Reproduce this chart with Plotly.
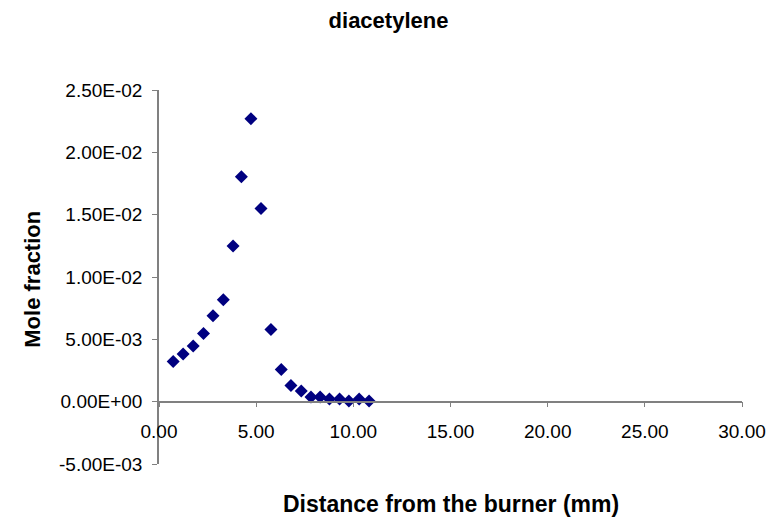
import plotly.graph_objects as go

# Diacetylene mole-fraction profile above the burner
distance_mm = [0.73, 1.24, 1.76, 2.29, 2.78, 3.31, 3.81, 4.24, 4.73, 5.25, 5.76,
               6.29, 6.79, 7.32, 7.82, 8.29, 8.77, 9.29, 9.77, 10.30, 10.81]
mole_fraction = [3.22e-3, 3.83e-3, 4.47e-3, 5.46e-3, 6.90e-3, 8.17e-3, 1.248e-2,
                 1.805e-2, 2.27e-2, 1.55e-2, 5.78e-3, 2.58e-3, 1.30e-3, 8.5e-4,
                 3.7e-4, 3.7e-4, 2.1e-4, 2.1e-4, 5e-5, 2.1e-4, 5e-5]

y_tick_vals = [-5e-3, 0, 5e-3, 1e-2, 1.5e-2, 2e-2, 2.5e-2]
y_tick_text = ["-5.00E-03", "0.00E+00", "5.00E-03", "1.00E-02",
               "1.50E-02", "2.00E-02", "2.50E-02"]
x_tick_vals = [0, 5, 10, 15, 20, 25, 30]

FONT = "Liberation Sans, Arial, sans-serif"
AXIS_GREY = "#808080"

fig = go.Figure()
fig.add_trace(go.Scatter(
    x=distance_mm, y=mole_fraction, mode="markers",
    marker=dict(symbol="diamond", size=10, color="#000080",
                line=dict(width=0)),
    showlegend=False,
))

y_min, y_max = -5e-3, 2.5e-2
fig.update_layout(
    width=777, height=522,
    margin=dict(l=158.5, r=34.5, t=90, b=58, pad=0),
    paper_bgcolor="white", plot_bgcolor="white",
    font=dict(family=FONT, size=19, color="black"),
    title=dict(text="<b>diacetylene</b>", x=0.5, xref="container",
               y=1 - 20 / 522, yref="container", yanchor="middle",
               xanchor="center", font=dict(size=22, family=FONT)),
    xaxis=dict(
        range=[0, 30], tickvals=x_tick_vals, tickformat=".2f",
        showgrid=False, zeroline=False, showline=True,
        linecolor=AXIS_GREY, linewidth=1.5,
        ticks="outside", ticklen=5, tickcolor=AXIS_GREY,
        anchor="free", position=(0 - y_min) / (y_max - y_min),
        ticklabelstandoff=8,
    ),
    yaxis=dict(
        range=[y_min, y_max], tickvals=y_tick_vals, ticktext=y_tick_text,
        showgrid=False, zeroline=False, showline=True,
        linecolor=AXIS_GREY, linewidth=1.5,
        ticks="outside", ticklen=5, tickcolor=AXIS_GREY,
        ticklabelstandoff=6,
    ),
    annotations=[
        dict(text="<b>Distance from the burner (mm)</b>", xref="paper",
             yref="paper", x=0.5, y=(464 - 504) / 374, xanchor="center",
             yanchor="middle", showarrow=False,
             font=dict(size=23, family=FONT)),
        dict(text="<b>Mole fraction</b>", xref="paper", yref="paper",
             x=(31 - 158.5) / 584, y=(464 - 279) / 374, xanchor="center",
             yanchor="middle", textangle=-90, showarrow=False,
             font=dict(size=22, family=FONT)),
    ],
)

fig.write_html("out.html")
